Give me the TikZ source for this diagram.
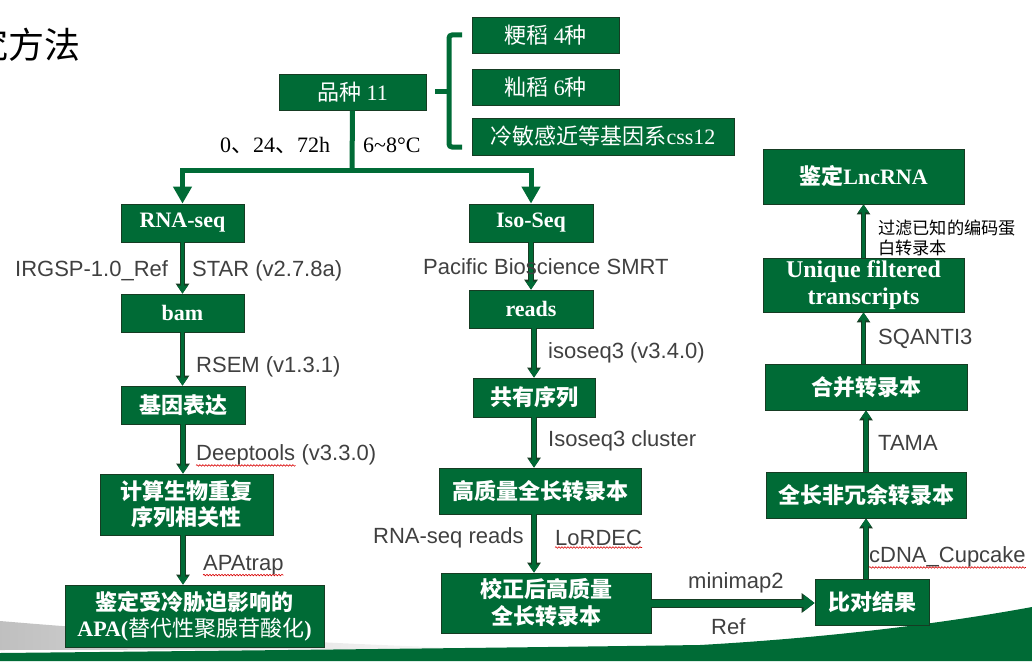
\documentclass[tikz,border=0pt]{standalone}
\usepackage{fontspec}
\setmainfont{Liberation Serif}
\setsansfont{Liberation Sans}
\newfontfamily\cjk{Noto Sans CJK SC}
\usetikzlibrary{arrows.meta,decorations.pathmorphing,calc}
\definecolor{gr}{RGB}{0,107,54}
\definecolor{dk}{RGB}{22,60,35}
\definecolor{lbl}{RGB}{64,64,64}
\newcommand\zh[1]{{\cjk #1}}
\tikzset{
  box/.style={draw=dk, line width=0.8pt, fill=gr, text=white, inner sep=0pt, align=center,
    font=\bfseries\fontsize{22}{26}\selectfont},
  tbox/.style={box, font=\fontsize{22}{26}\selectfont},
  sz/.style 2 args={minimum width=#1pt, minimum height=#2pt},
  lab/.style={anchor=west, inner sep=0pt, text=lbl, font=\sffamily\fontsize{22}{26}\selectfont},
  trunk/.style={draw=gr, line width=5pt},
  trunkarrow/.style={trunk, -{Triangle[width=18pt,length=17pt]}},
  barrow/.style={preaction={draw=dk, line width=5.6pt, -{Triangle[width=13pt,length=10pt]}},
    draw=gr, line width=3.8pt, -{Triangle[width=10pt,length=8pt]}},
  harrow/.style={preaction={draw=dk, line width=9pt, -{Triangle[width=19pt,length=13pt]}},
    draw=gr, line width=7pt, -{Triangle[width=16pt,length=11pt]}},
  wavy/.style={draw=red!85!black, line width=0.6pt, decorate,
    decoration={snake, amplitude=0.8pt, segment length=3pt}}
}
\begin{document}
\begin{tikzpicture}[x=1pt,y=-1pt]
\useasboundingbox (0,0) rectangle (1032,661);
% background decoration
\shade[left color=black!25, right color=white]
  (0,621) .. controls (130,632) and (300,643) .. (490,649) -- (0,650) -- cycle;
\fill[gr] (0,661) -- (0,653) .. controls (300,650) and (560,647) .. (700,645)
  .. controls (840,637) and (950,622) .. (1032,607) -- (1032,661) -- cycle;
% title
\node[anchor=east, inner sep=0pt, font=\cjk\fontsize{36}{40}\selectfont] (title) at (81,45) {研究方法};
% top group
\node[tbox, sz={147}{36}] (pz) at (352.5,92) {\zh{品种} 11};
\node[tbox, sz={147}{36}] (g1) at (545.5,35) {\zh{粳稻} 4\zh{种}};
\node[tbox, sz={147}{36}] (g2) at (545.5,87) {\zh{籼稻} 6\zh{种}};
\node[tbox, sz={262}{37}] (g3) at (603,136.5) {\zh{冷敏感近等基因系}css12};
\coordinate (bt) at (462,35);
\coordinate (bb) at (462,147);
\coordinate (bm) at (435,91);
\draw[trunk, rounded corners=3pt] (bt) -- (449,35) -- (449,147) -- (bb);
\draw[trunk] (bm) -- (449,91);
\node[anchor=west, inner sep=0pt, font=\fontsize{22}{26}\selectfont] (t1) at (220,145) {0\zh{、}24\zh{、}72h};
\node[anchor=west, inner sep=0pt, font=\fontsize{22}{26}\selectfont] (t2) at (363,145) {6\textasciitilde 8°C};
% left column
\node[box, sz={123}{38}] (rna) at (182.5,223) {RNA-seq};
\node[box, sz={123}{38}] (bam) at (182.5,313) {bam};
\node[box, sz={124}{38}] (expr) at (183,405) {\zh{基因表达}};
\node[box, sz={173}{61}] (corr) at (186.5,504.5) {\zh{计算生物重复}\\\zh{序列相关性}};
\node[box, sz={259}{62}] (apa) at (194.5,616) {\zh{鉴定受冷胁迫影响的}\\APA({\mdseries\zh{替代性聚腺苷酸化}})};
% middle column
\node[box, sz={124}{38}] (iso) at (531,223) {Iso-Seq};
\node[box, sz={124}{38}] (reads) at (531,309) {reads};
\node[box, sz={122}{39}] (cons) at (534,397.5) {\zh{共有序列}};
\node[box, sz={202}{46}] (hq) at (540,491) {\zh{高质量全长转录本}};
\node[box, sz={210}{60}, font=\bfseries\fontsize{22}{27}\selectfont] (chq) at (546,603) {\zh{校正后高质量}\\\zh{全长转录本}};
% right column
\node[box, sz={114}{46}] (aln) at (872,602) {\zh{比对结果}};
\node[box, sz={200}{46}] (nr) at (866,495) {\zh{全长非冗余转录本}};
\node[box, sz={202}{46}] (mrg) at (866,387) {\zh{合并转录本}};
\node[box, sz={201}{54}, font=\bfseries\fontsize{24}{27}\selectfont] (uq) at (863.5,285) {Unique filtered\\transcripts};
\node[box, sz={201}{55}] (lnc) at (863.5,176.5) {\zh{鉴定}LncRNA};
% trunk
\coordinate (hub) at (352,170);
\draw[trunk] (pz.south) -- (hub);
\draw[trunkarrow] (hub) -| (rna.north);
\draw[trunkarrow] (hub) -| (iso.north);
% arrows
\draw[barrow] (rna.south) -- (rna.south |- bam.north);
\draw[barrow] (bam.south) -- (bam.south |- expr.north);
\draw[barrow] (expr.south) -- (expr.south |- corr.north);
\draw[barrow] (corr.south -| expr.south) -- (expr.south |- apa.north);
\draw[barrow] (iso.south) -- (iso.south |- reads.north);
\draw[barrow] (cons.north |- reads.south) -- (cons.north);
\draw[barrow] (cons.south) -- (cons.south |- hq.north);
\draw[barrow] (hq.south -| cons.south) -- (cons.south |- chq.north);
\draw[harrow] (chq.east) -- (chq.east -| aln.west);
\draw[barrow] (nr.south |- aln.north) -- (nr.south);
\draw[barrow] (nr.north) -- (nr.north |- mrg.south);
\draw[barrow] (mrg.north -| uq.south) -- (uq.south);
\draw[barrow] (uq.north) -- (uq.north |- lnc.south);
% labels
\node[lab] (l1) at (15,271) {IRGSP-1.0\_Ref};
\node[lab] (l2) at (192,271) {STAR (v2.7.8a)};
\node[lab] (l3) at (196,367) {RSEM (v1.3.1)};
\node[lab] (l4a) at (196,455) {Deeptools};
\node[lab] (l4b) at ([xshift=6pt]l4a.east) {(v3.3.0)};
\node[lab] (l5) at (203,565) {APAtrap};
\node[lab] (l6) at (423,267) {Pacific Bioscience SMRT};
\node[lab] (l7) at (548,353) {isoseq3 (v3.4.0)};
\node[lab] (l8) at (548,441) {Isoseq3 cluster};
\node[lab] (l9) at (373,538) {RNA-seq reads};
\node[lab] (l10) at (555,538) {LoRDEC};
\node[lab] (l11) at (688,583) {minimap2};
\node[lab] (l12) at (711,627) {Ref};
\node[lab] (l13) at (869,557) {cDNA\_Cupcake};
\node[lab] (l14) at (878,443) {TAMA};
\node[lab] (l15) at (878,339) {SQANTI3};
\node[anchor=west, inner sep=0pt, align=left, font=\cjk\fontsize{17.2}{20}\selectfont] (l16) at (878,238) {过滤已知的编码蛋\\白转录本};
% spell-check squiggles
\draw[wavy] (l4a.south west) -- (l4a.south east);
\draw[wavy] (l5.south west) -- (l5.south east);
\draw[wavy] ([yshift=-1.5pt]l10.south west) -- ([yshift=-1.5pt]l10.south east);
\draw[wavy] (l13.south west) -- (l13.south east);
\end{tikzpicture}
\end{document}
